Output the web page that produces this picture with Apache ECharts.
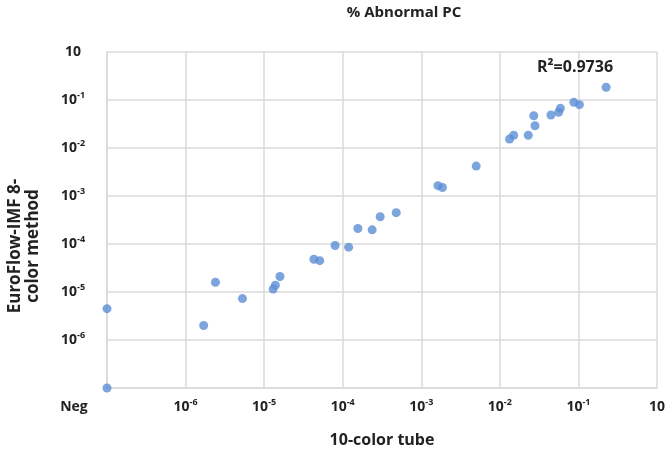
<!DOCTYPE html>
<html>
<head>
<meta charset="utf-8">
<script src="https://cdn.jsdelivr.net/npm/echarts@6/dist/echarts.min.js"></script>
<style>
html,body{margin:0;padding:0;background:#fff;}
#c{width:665px;height:456px;}
</style>
</head>
<body>
<div id="c"></div>
<script>
// "Neg" is drawn at the bottom of the log scale (1e-7)
const NEG = 1e-7;
const tenColorTube = [NEG, NEG, 1.7e-6, 2.4e-6, 5.3e-6, 1.3e-5, 1.39e-5, 1.59e-5, 4.3e-5, 5.1e-5,
  8.0e-5, 1.19e-4, 1.56e-4, 2.37e-4, 3.0e-4, 4.8e-4, 1.63e-3, 1.86e-3, 5.0e-3, 0.0133,
  0.015, 0.023, 0.027, 0.028, 0.0447, 0.056, 0.059, 0.0875, 0.103, 0.225];
const euroFlowIMF = [4.5e-6, NEG, 2.0e-6, 1.6e-5, 7.3e-6, 1.15e-5, 1.39e-5, 2.1e-5, 4.8e-5, 4.5e-5,
  9.3e-5, 8.6e-5, 2.1e-4, 1.97e-4, 3.7e-4, 4.5e-4, 1.64e-3, 1.5e-3, 4.2e-3, 0.0154,
  0.0184, 0.0184, 0.047, 0.029, 0.0488, 0.0555, 0.067, 0.0895, 0.08, 0.184];
const xTickLabels = ['Neg', '10^-6', '10^-5', '10^-4', '10^-3', '10^-2', '10^-1', '10'];
const yTickLabels = ['', '10^-6', '10^-5', '10^-4', '10^-3', '10^-2', '10^-1', '10'];
const chartTitle = '% Abnormal PC';
const xTitle = '10-color tube';
const yTitle = 'EuroFlow-IMF 8-\ncolor method';
const rSquared = 'R\u00b2=0.9736';

const FONT = '"Open Sans"';
const TXT = '#222';
const GRID = '#dadada';

function fmt(labels) {
  return function (v) {
    const i = Math.round(Math.log10(v)) + 7;
    const s = labels[i];
    if (s === undefined || s === '') return '';
    if (s === 'Neg') return '{neg|Neg}';
    const p = s.split('^');
    if (p.length === 1) return '{b|' + p[0] + '}';
    return '{b|' + p[0] + '}{s|' + p[1] + '}';
  };
}
const rich = {
  b: {fontFamily: FONT, fontWeight: 'bold', fontSize: 14, color: TXT, lineHeight: 18},
  s: {fontFamily: FONT, fontWeight: 'bold', fontSize: 9, color: TXT, lineHeight: 18, verticalAlign: 'top'},
  neg: {fontFamily: FONT, fontWeight: 'bold', fontSize: 14, color: TXT, lineHeight: 18, padding: [0, 66, 0, 0]}
};

const chart = echarts.init(document.getElementById('c'));
chart.setOption({
  animation: false,
  title: {
    text: chartTitle, left: 399, top: 0, textAlign: 'center',
    textStyle: {fontFamily: FONT, fontWeight: 'bold', fontSize: 15, color: TXT}
  },
  grid: {left: 107, right: 8, top: 52, bottom: 68, containLabel: false, outerBoundsMode: 'none'},
  xAxis: {
    type: 'log', logBase: 10, min: NEG, max: 1, interval: 1,
    name: xTitle, nameLocation: 'middle', nameGap: 44,
    nameTextStyle: {fontFamily: FONT, fontWeight: 'bold', fontSize: 16, color: TXT},
    axisLine: {show: true, lineStyle: {color: GRID, width: 1.5}},
    axisTick: {show: false},
    splitLine: {show: true, lineStyle: {color: GRID, width: 1.5}},
    axisLabel: {formatter: fmt(xTickLabels), rich: rich, margin: 10, hideOverlap: false}
  },
  yAxis: {
    type: 'log', logBase: 10, min: NEG, max: 1, interval: 1,
    axisLine: {show: true, lineStyle: {color: GRID, width: 1.5}},
    axisTick: {show: false},
    splitLine: {show: true, lineStyle: {color: GRID, width: 1.5}},
    axisLabel: {formatter: fmt(yTickLabels), rich: rich, margin: 34, align: 'center', hideOverlap: false}
  },
  graphic: [
    {
      type: 'text', x: 24, y: 246, rotation: Math.PI / 2, z: 10,
      style: {text: yTitle, fontFamily: FONT, fontWeight: 'bold', fontSize: 17, fill: TXT,
        align: 'center', verticalAlign: 'middle', lineHeight: 18}
    },
    {
      type: 'text', x: 575, y: 67, z: 10,
      style: {text: rSquared, fontFamily: FONT, fontWeight: 'bold', fontSize: 16, fill: TXT,
        align: 'center', verticalAlign: 'middle'}
    }
  ],
  series: [{
    type: 'scatter',
    clip: false,
    symbol: 'circle',
    symbolSize: 9,
    itemStyle: {color: '#5b8fd4'},
    data: tenColorTube.map((x, i) => [x, euroFlowIMF[i]])
  }]
});
</script>
</body>
</html>
